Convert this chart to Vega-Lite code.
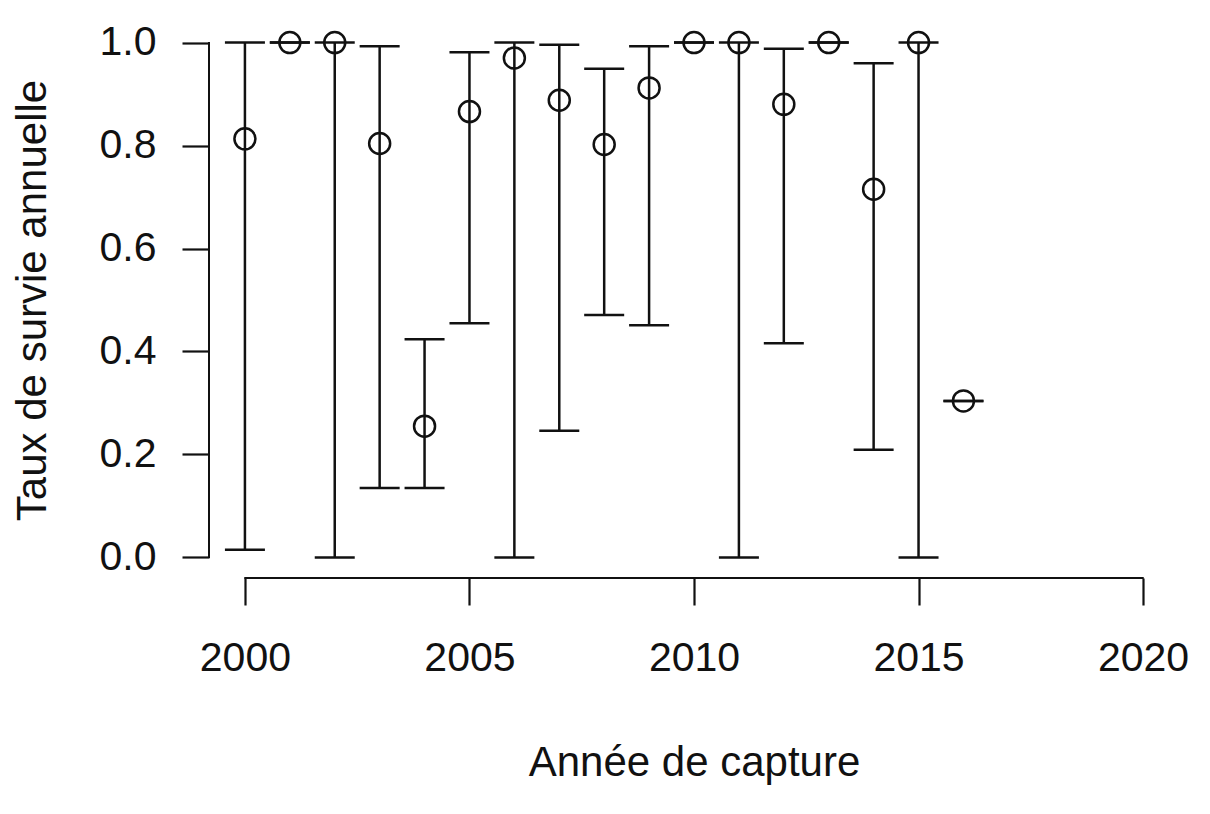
{
  "$schema": "https://vega.github.io/schema/vega-lite/v6.json",
  "width": 970,
  "height": 556,
  "autosize": {"type": "none"},
  "padding": {"left": 209, "top": 22, "right": 31, "bottom": 236},
  "background": "white",
  "config": {
    "view": {"stroke": null},
    "font": "Liberation Sans"
  },
  "data": {
    "values": [
      {"year": 2000, "est": 0.813, "lower": 0.015, "upper": 1.0},
      {"year": 2001, "est": 1.0, "lower": 1.0, "upper": 1.0},
      {"year": 2002, "est": 1.0, "lower": 0.0, "upper": 1.0},
      {"year": 2003, "est": 0.804, "lower": 0.135, "upper": 0.993},
      {"year": 2004, "est": 0.255, "lower": 0.135, "upper": 0.424},
      {"year": 2005, "est": 0.866, "lower": 0.455, "upper": 0.981},
      {"year": 2006, "est": 0.970, "lower": 0.0, "upper": 1.0},
      {"year": 2007, "est": 0.888, "lower": 0.246, "upper": 0.996},
      {"year": 2008, "est": 0.802, "lower": 0.471, "upper": 0.949},
      {"year": 2009, "est": 0.912, "lower": 0.451, "upper": 0.993},
      {"year": 2010, "est": 1.0, "lower": 1.0, "upper": 1.0},
      {"year": 2011, "est": 1.0, "lower": 0.0, "upper": 1.0},
      {"year": 2012, "est": 0.880, "lower": 0.416, "upper": 0.988},
      {"year": 2013, "est": 1.0, "lower": 1.0, "upper": 1.0},
      {"year": 2014, "est": 0.715, "lower": 0.209, "upper": 0.960},
      {"year": 2015, "est": 1.0, "lower": 0.0, "upper": 1.0},
      {"year": 2016, "est": 0.304, "lower": 0.304, "upper": 0.304}
    ]
  },
  "encoding": {
    "x": {
      "field": "year",
      "type": "quantitative",
      "scale": {"domain": [1999.2, 2020.8], "nice": false, "zero": false},
      "axis": {
        "title": "Année de capture",
        "values": [2000, 2005, 2010, 2015, 2020],
        "format": "d",
        "domain": false,
        "grid": false,
        "tickSize": 27,
        "tickWidth": 2.2,
        "tickColor": "#111111",
        "labelFontSize": 41,
        "labelColor": "#111111",
        "labelPadding": 33,
        "labelFont": "Liberation Sans",
        "titleFont": "Liberation Sans",
        "titleFontSize": 42,
        "titleFontWeight": "normal",
        "titleColor": "#111111",
        "titleBaseline": "alphabetic",
        "titleY": 197
      }
    }
  },
  "layer": [
    {
      "mark": {"type": "rule", "color": "#111111", "strokeWidth": 2.5},
      "encoding": {
        "y": {
          "field": "lower",
          "type": "quantitative",
          "scale": {"domain": [-0.04, 1.04], "nice": false, "zero": false},
          "axis": {
            "title": "Taux de survie annuelle",
            "values": [0, 0.2, 0.4, 0.6, 0.8, 1.0],
            "format": ".1f",
            "domain": false,
            "grid": false,
            "tickSize": 27,
            "tickWidth": 2.2,
            "tickColor": "#111111",
            "labelFontSize": 41,
            "labelColor": "#111111",
            "labelPadding": 26,
            "labelFont": "Liberation Sans",
            "titleFont": "Liberation Sans",
            "titleFontSize": 42,
            "titleFontWeight": "normal",
            "titleColor": "#111111",
            "titleBaseline": "alphabetic",
            "titleAngle": -90,
            "titleX": -164
          }
        },
        "y2": {"field": "upper"}
      }
    },
    {
      "mark": {"type": "tick", "orient": "horizontal", "size": 40, "thickness": 2.5, "color": "#111111", "opacity": 1},
      "encoding": {"y": {"field": "lower", "type": "quantitative"}}
    },
    {
      "mark": {"type": "tick", "orient": "horizontal", "size": 40, "thickness": 2.5, "color": "#111111", "opacity": 1},
      "encoding": {"y": {"field": "upper", "type": "quantitative"}}
    },
    {
      "mark": {"type": "point", "shape": "circle", "filled": false, "stroke": "#111111", "strokeWidth": 2.5, "size": 441, "opacity": 1},
      "encoding": {"y": {"field": "est", "type": "quantitative"}}
    },
    {
      "mark": {"type": "rule", "color": "#111111", "strokeWidth": 2},
      "encoding": {
        "x": {"datum": 1999.2},
        "y": {"datum": 0},
        "y2": {"datum": 1}
      }
    },
    {
      "mark": {"type": "rule", "color": "#111111", "strokeWidth": 2},
      "encoding": {
        "x": {"datum": 2000},
        "x2": {"datum": 2020},
        "y": {"datum": -0.04}
      }
    }
  ]
}
